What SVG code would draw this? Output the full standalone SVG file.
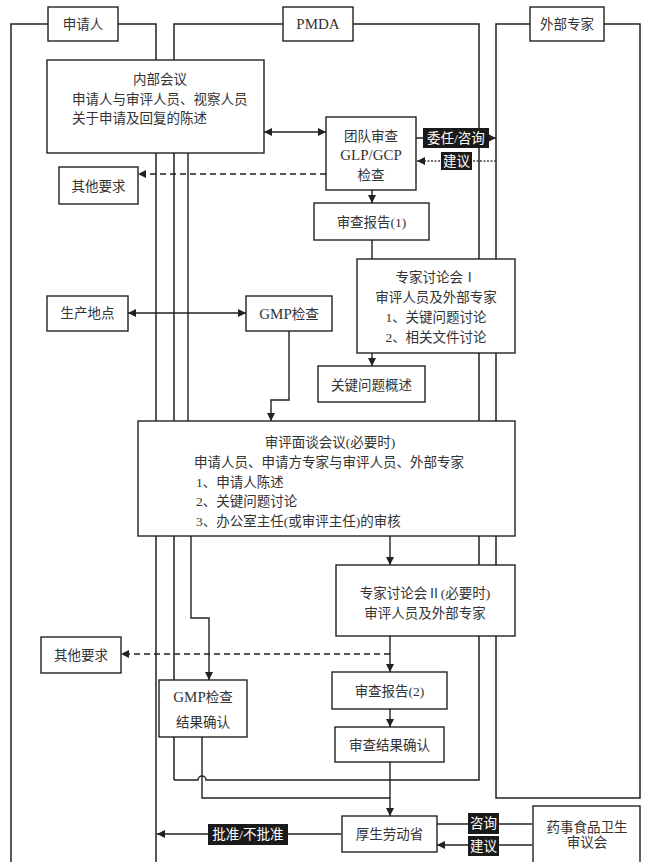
<svg xmlns="http://www.w3.org/2000/svg" width="647" height="862" viewBox="0 0 647 862">
<style>
.lane{fill:none;stroke:#222;stroke-width:1.5}
.box{fill:#fff;stroke:#222;stroke-width:1.4}
.hdr{fill:#fff;stroke:#222;stroke-width:1.4}
text{font-family:"Liberation Serif","Noto Sans CJK SC",serif;font-size:13.5px;fill:#333;dominant-baseline:central}
.lat{font-size:15px}
.c{text-anchor:middle}
.lbl{fill:#1a1a1a;stroke:none}
.lt{fill:#fff;text-anchor:middle}
.ln{fill:none;stroke:#222;stroke-width:1.4}
.dash{stroke-dasharray:6 4}
.dot{stroke-dasharray:2 1.5;stroke:#444}
</style>
<defs>
<marker id="ah" viewBox="0 0 10 10" refX="10" refY="5" markerWidth="8" markerHeight="8" markerUnits="userSpaceOnUse" orient="auto-start-reverse">
<path d="M0 0 L10 5 L0 10 Z" fill="#222"/>
</marker>
</defs>

<g id="lanes">
<path class="lane" d="M11 862 V24 H156 V862"/>
<path class="lane" d="M174 780 V24 H479 V780 H206 A4 4 0 0 0 198 780 H174"/>
<path class="lane" d="M496 798 V24 H640 V798 Z"/>
</g>
<g id="lane-headers">
<g id="h-applicant"><rect class="hdr" x="48" y="7" width="70" height="34"/><text class="c" x="83" y="24">申请人</text></g>
<g id="h-pmda"><rect class="hdr" x="283" y="7" width="70" height="34"/><text class="c lat" x="318" y="24">PMDA</text></g>
<g id="h-expert"><rect class="hdr" x="530" y="7" width="74" height="34"/><text class="c" x="567" y="24">外部专家</text></g>
</g>

<g id="connectors">
<line class="ln" x1="264" y1="132" x2="326" y2="132" marker-start="url(#ah)" marker-end="url(#ah)"/>
<line class="ln" x1="416" y1="138" x2="496" y2="138" marker-end="url(#ah)"/>
<line class="ln dot" x1="496" y1="161" x2="417" y2="161" marker-end="url(#ah)"/>
<line class="ln dash" x1="326" y1="174" x2="138" y2="174" marker-end="url(#ah)"/>
<line class="ln" x1="372" y1="190" x2="372" y2="203" marker-end="url(#ah)"/>
<line class="ln" x1="372" y1="240" x2="372" y2="259"/>
<line class="ln" x1="372" y1="353" x2="372" y2="366" marker-end="url(#ah)"/>
<line class="ln" x1="128" y1="313" x2="246" y2="313" marker-start="url(#ah)" marker-end="url(#ah)"/>
<path class="ln" d="M289 331 V400 H271 V421" marker-end="url(#ah)"/>
<line class="ln" x1="188" y1="153" x2="188" y2="421"/>
<line class="ln" x1="390" y1="536" x2="390" y2="565" marker-end="url(#ah)"/>
<path class="ln" d="M191 536 V618 H209 V680" marker-end="url(#ah)"/>
<line class="ln" x1="390" y1="636" x2="390" y2="672" marker-end="url(#ah)"/>
<line class="ln dash" x1="390" y1="654" x2="121" y2="654" marker-end="url(#ah)"/>
<line class="ln" x1="390" y1="709" x2="390" y2="727" marker-end="url(#ah)"/>
<line class="ln" x1="390" y1="762" x2="390" y2="816" marker-end="url(#ah)"/>
<path class="ln" d="M202 737 V798 H390"/>
<line class="ln" x1="341" y1="834" x2="157" y2="834" marker-end="url(#ah)"/>
<line class="ln" x1="436" y1="824" x2="532" y2="824"/>
<line class="ln" x1="532" y1="845" x2="437" y2="845" marker-end="url(#ah)"/>
<g id="labels">
<rect class="lbl" x="423" y="128" width="66" height="20"/><text class="lt" x="456" y="138">委任/咨询</text>
<rect class="lbl" x="441" y="152" width="31" height="18"/><text class="lt" x="456.5" y="161">建议</text>
<rect class="lbl" x="208" y="824" width="80" height="21"/><text class="lt" x="248" y="834.5">批准/不批准</text>
<rect class="lbl" x="468" y="813" width="31" height="21"/><text class="lt" x="483.5" y="823.5">咨询</text>
<rect class="lbl" x="468" y="836" width="31" height="20"/><text class="lt" x="483.5" y="846">建议</text>
</g>
</g>

<g id="internal-meeting"><rect class="box" x="47" y="60" width="217" height="93"/>
<text class="c" x="160" y="79">内部会议</text>
<text x="72" y="99">申请人与审评人员、视察人员</text>
<text x="72" y="118">关于申请及回复的陈述</text></g>
<g id="team-review"><rect class="box" x="326" y="117" width="90" height="73"/>
<text class="c" x="371" y="136">团队审查</text>
<text class="c lat" x="371" y="155">GLP/GCP</text>
<text class="c" x="371" y="175">检查</text></g>
<g id="other-req-1"><rect class="box" x="59" y="167" width="79" height="37"/><text class="c" x="98.5" y="186">其他要求</text></g>
<g id="report-1"><rect class="box" x="314" y="203" width="115" height="37"/><text class="c" x="371.5" y="222">审查报告(1)</text></g>
<g id="expert-meeting-1"><rect class="box" x="357" y="259" width="158" height="94"/>
<text class="c" x="436" y="277">专家讨论会Ⅰ</text>
<text class="c" x="436" y="297">审评人员及外部专家</text>
<text class="c" x="436" y="317">1、关键问题讨论</text>
<text class="c" x="436" y="337">2、相关文件讨论</text></g>
<g id="key-issues"><rect class="box" x="318" y="366" width="107" height="36"/><text class="c" x="371.5" y="385">关键问题概述</text></g>
<g id="production-site"><rect class="box" x="47" y="296" width="81" height="35"/><text class="c" x="87.5" y="313.5">生产地点</text></g>
<g id="gmp-inspection"><rect class="box" x="246" y="296" width="86" height="35"/><text class="c" x="289" y="314"><tspan class="lat">GMP</tspan>检查</text></g>
<g id="review-interview"><rect class="box" x="138" y="421" width="377" height="115"/>
<text class="c" x="330" y="442">审评面谈会议(必要时)</text>
<text class="c" x="329" y="462">申请人员、申请方专家与审评人员、外部专家</text>
<text x="196" y="482">1、申请人陈述</text>
<text x="196" y="501">2、关键问题讨论</text>
<text x="196" y="521">3、办公室主任(或审评主任)的审核</text></g>
<g id="expert-meeting-2"><rect class="box" x="336" y="565" width="179" height="71"/>
<text class="c" x="425" y="593">专家讨论会Ⅱ(必要时)</text>
<text class="c" x="425" y="613">审评人员及外部专家</text></g>
<g id="other-req-2"><rect class="box" x="41" y="637" width="80" height="36"/><text class="c" x="81" y="655">其他要求</text></g>
<g id="report-2"><rect class="box" x="332" y="672" width="115" height="37"/><text class="c" x="389.5" y="691">审查报告(2)</text></g>
<g id="gmp-result"><rect class="box" x="159" y="680" width="88" height="57"/>
<text class="c" x="203" y="697"><tspan class="lat">GMP</tspan>检查</text>
<text class="c" x="203" y="722">结果确认</text></g>
<g id="review-result"><rect class="box" x="335" y="727" width="109" height="35"/><text class="c" x="389.5" y="745">审查结果确认</text></g>
<g id="mhlw"><rect class="box" x="342" y="816" width="95" height="36"/><text class="c" x="389.5" y="834">厚生劳动省</text></g>
<g id="pafsc"><rect class="box" x="533" y="806" width="107" height="60"/>
<text class="c" x="587" y="827">药事食品卫生</text>
<text class="c" x="587" y="842">审议会</text></g>
</svg>
